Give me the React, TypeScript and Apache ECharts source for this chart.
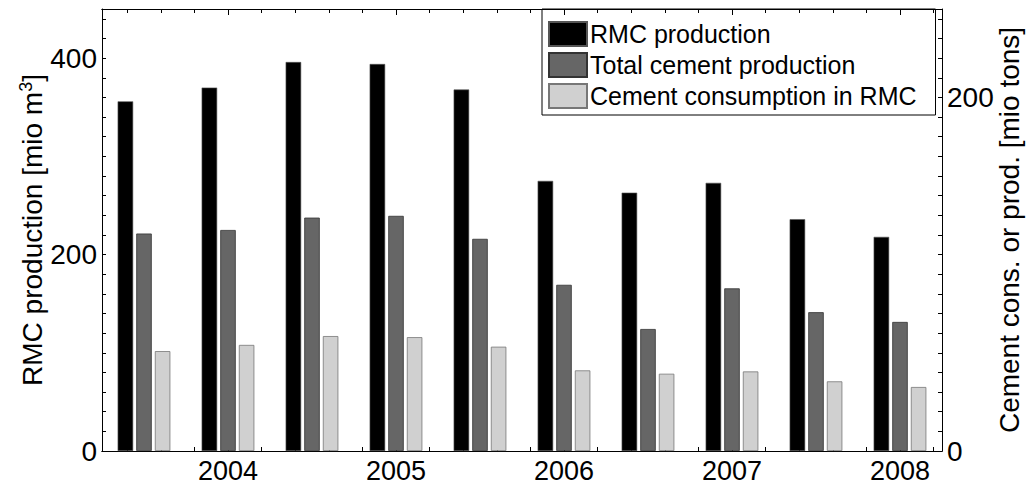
import React, { useEffect, useRef } from 'react';
import * as echarts from 'echarts';

// Half-year periods shown as bar groups
const periods = [
  '2003 H2', '2004 H1', '2004 H2', '2005 H1', '2005 H2',
  '2006 H1', '2006 H2', '2007 H1', '2007 H2', '2008 H1',
];

// RMC production [mio m³] (left axis)
const rmcProduction = [356, 370, 396, 394, 368, 275, 263, 273, 236, 218];
// Total cement production [mio tons] (right axis)
const cementProduction = [123, 125, 132, 133, 120, 94, 69, 92, 78.5, 73];
// Cement consumption in RMC [mio tons] (right axis)
const cementInRmc = [56.5, 60, 65, 64.4, 59, 45.6, 43.7, 45, 39.4, 36.2];

// Year labels on the time axis
const yearLabels = [2004, 2005, 2006, 2007, 2008];
const timeMin = 2003.25;
const timeMax = 2008.25;

const leftMax = 450;
const rightMax = 250;
const leftTickStep = 20;
const labelStep = 200;

const FONT = '"Liberation Sans", Arial, Helvetica, sans-serif';

export default function App() {
  const ref = useRef<HTMLDivElement>(null);

  useEffect(() => {
    if (!ref.current) return;
    const chart = echarts.init(ref.current, null, { renderer: 'svg' });

    // fifth-of-a-year tick positions between the year ticks
    const minorTicks: number[] = [];
    for (let i = 0; i < 25; i++) {
      const v = Math.round((2003.4 + i * 0.2) * 10) / 10;
      if (!yearLabels.includes(v)) minorTicks.push(v);
    }

    const black = { color: '#000', width: 1 };

    const tickAxis = (position: 'top' | 'bottom', values: number[], length: number) => ({
      type: 'value',
      position,
      min: timeMin,
      max: timeMax,
      axisLine: { show: true, onZero: false, lineStyle: black },
      axisTick: { show: true, inside: true, length, customValues: values, lineStyle: black },
      axisLabel: { show: false },
      splitLine: { show: false },
    });

    chart.setOption({
      animation: false,
      backgroundColor: '#fff',
      textStyle: { fontFamily: FONT },
      grid: { left: 102, right: 84, top: 9, bottom: 33, containLabel: false, outerBoundsMode: 'none' },
      legend: {
        orient: 'vertical',
        left: 542,
        top: 9,
        padding: [11, 19, 5, 6],
        itemWidth: 38,
        itemHeight: 24,
        itemGap: 3,
        icon: 'rect',
        borderColor: '#000',
        borderWidth: 1,
        borderRadius: 0,
        textStyle: { fontSize: 25, fontFamily: FONT, color: '#000', lineHeight: 28, padding: [0, 0, 0, -2] },
        data: ['RMC production', 'Total cement production', 'Cement consumption in RMC'],
      },
      xAxis: [
        {
          type: 'category',
          position: 'bottom',
          data: periods,
          boundaryGap: true,
          axisLine: { show: true, onZero: false, lineStyle: black },
          axisTick: { show: false },
          axisLabel: { show: false },
          splitLine: { show: false },
        },
        {
          type: 'value',
          position: 'bottom',
          min: timeMin,
          max: timeMax,
          axisLine: { show: false },
          axisTick: { show: true, inside: true, length: 4, customValues: minorTicks, lineStyle: black },
          axisLabel: {
            show: true,
            customValues: yearLabels,
            formatter: (v: number) => String(v),
            fontSize: 27,
            fontFamily: FONT,
            color: '#000',
            margin: 6,
          },
          splitLine: { show: false },
        },
        tickAxis('bottom', yearLabels, 6),
        tickAxis('top', minorTicks, 4),
        tickAxis('top', yearLabels, 6),
      ],
      yAxis: [
        {
          type: 'value',
          position: 'left',
          min: 0,
          max: leftMax,
          interval: leftTickStep,
          name: 'RMC production [mio m{sup|3}]',
          nameLocation: 'middle',
          nameRotate: 90,
          nameGap: 54,
          nameMoveOverlap: false,
          nameTextStyle: {
            fontSize: 28,
            fontFamily: FONT,
            color: '#000',
            lineHeight: 31,
            rich: {
              sup: { fontSize: 18, fontFamily: FONT, color: '#000', verticalAlign: 'top', lineHeight: 18 },
            },
          },
          axisLine: { show: true, lineStyle: black },
          axisTick: { show: true, inside: true, length: 4, lineStyle: black },
          axisLabel: {
            fontSize: 28,
            fontFamily: FONT,
            color: '#000',
            margin: 5,
            formatter: (v: number) => (v % labelStep === 0 ? String(v) : ''),
          },
          splitLine: { show: false },
        },
        {
          type: 'value',
          position: 'right',
          offset: 0,
          min: 0,
          max: rightMax,
          interval: labelStep,
          name: 'Cement cons. or prod. [mio tons]',
          nameLocation: 'middle',
          nameRotate: 90,
          nameGap: 53,
          nameMoveOverlap: false,
          nameTextStyle: { fontSize: 28, fontFamily: FONT, color: '#000' },
          axisLine: { show: true, lineStyle: black },
          axisTick: { show: false },
          axisLabel: {
            fontSize: 28,
            fontFamily: FONT,
            color: '#000',
            margin: 5,
            formatter: (v: number) => (v % labelStep === 0 ? String(v) : ''),
          },
          splitLine: { show: false },
        },
        {
          type: 'value',
          position: 'right',
          offset: 0,
          min: 0,
          max: leftMax,
          interval: leftTickStep,
          axisLine: { show: false },
          axisTick: { show: true, inside: true, length: 4, lineStyle: black },
          axisLabel: { show: false },
          splitLine: { show: false },
        },
      ],
      series: [
        {
          name: 'RMC production',
          type: 'bar',
          xAxisIndex: 0,
          yAxisIndex: 0,
          data: rmcProduction,
          barWidth: 15.5,
          barGap: '20%',
          itemStyle: { color: '#000', borderColor: '#555', borderWidth: 0.6 },
        },
        {
          name: 'Total cement production',
          type: 'bar',
          xAxisIndex: 0,
          yAxisIndex: 1,
          data: cementProduction,
          barWidth: 15.5,
          barGap: '20%',
          itemStyle: { color: '#666666', borderColor: '#333', borderWidth: 0.8 },
        },
        {
          name: 'Cement consumption in RMC',
          type: 'bar',
          xAxisIndex: 0,
          yAxisIndex: 1,
          data: cementInRmc,
          barWidth: 15.5,
          barGap: '20%',
          itemStyle: { color: '#d0d0d0', borderColor: '#777', borderWidth: 0.8 },
        },
      ],
    });

    return () => chart.dispose();
  }, []);

  return (
    <div
      ref={ref}
      style={{ position: 'absolute', left: 0, top: 0, width: 1026, height: 484 }}
    />
  );
}
